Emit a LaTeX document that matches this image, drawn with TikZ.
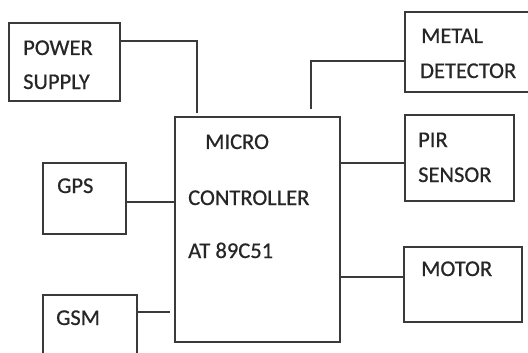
\documentclass[tikz,border=0pt]{standalone}
\usepackage{fontspec}
\setmainfont{Carlito}
\newfontfamily\lblfont{Carlito}[FakeBold=0.6]
\usetikzlibrary{calc}
\definecolor{ln}{HTML}{3A3A3A}
\definecolor{tx}{HTML}{262626}
\begin{document}
\begin{tikzpicture}[x=1pt,y=-1pt,
  box/.style={draw=ln,line width=1.8pt,rectangle,anchor=north west,inner sep=0pt},
  lbl/.style={anchor=base west,inner sep=0pt,text=tx,font=\lblfont\fontsize{22.5}{26}\selectfont},
  wire/.style={draw=ln,line width=1.8pt}]
\useasboundingbox (0,0) rectangle (528,353);
\clip (0,0) rectangle (528,353);
\fill[white] (0,0) rectangle (528,353);
% boxes
\node[box,minimum width=111pt,minimum height=78pt] (pwr) at (8,22) {};
\node[box,minimum width=165pt,minimum height=225pt] (mcu) at (174,116) {};
\node[box,minimum width=126pt,minimum height=80pt] (metal) at (404,11) {};
\node[box,minimum width=109pt,minimum height=86pt] (pir) at (404,114) {};
\node[box,minimum width=118pt,minimum height=75pt] (motor) at (403,246) {};
\node[box,minimum width=83pt,minimum height=71pt] (gps) at (42,162) {};
\node[box,minimum width=94pt,minimum height=70pt] (gsm) at (42,294) {};
% labels
\node[lbl] (t1) at (23,55) {POWER};
\node[lbl] (t2) at (23,89) {SUPPLY};
\node[lbl] (t3) at (205,149) {MICRO};
\node[lbl] (t4) at (188,205) {CONTROLLER};
\node[lbl] (t5) at (188,258) {AT 89C51};
\node[lbl] (t6) at (421,43) {METAL};
\node[lbl] (t7) at (420,78) {DETECTOR};
\node[lbl] (t8) at (418,147) {PIR};
\node[lbl] (t9) at (418,182) {SENSOR};
\node[lbl] (t10) at (421,276) {MOTOR};
\node[lbl] (t11) at (57,193) {GPS};
\node[lbl] (t12) at (56,325) {GSM};
% connectors
\coordinate (pe) at ($(mcu.north west)+(23,-3)$);
\coordinate (me) at ($(mcu.north west)+(137,-7)$);
\coordinate (ge) at ($(mcu.north west)+(-4,196)$);
\draw[wire] ($(pwr.north east)+(0,19)$) -| (pe);
\draw[wire] ($(metal.north west)+(0,50)$) -| (me);
\draw[wire] ($(mcu.north east)+(0,47)$) -- ($(pir.north west)+(0,49)$);
\draw[wire] ($(mcu.north east)+(0,161)$) -- ($(motor.north west)+(0,31)$);
\draw[wire] ($(gps.north east)+(0,40)$) -- ($(mcu.north west)+(0,86)$);
\draw[wire] ($(gsm.north east)+(0,18)$) -- (ge);
\end{tikzpicture}
\end{document}
